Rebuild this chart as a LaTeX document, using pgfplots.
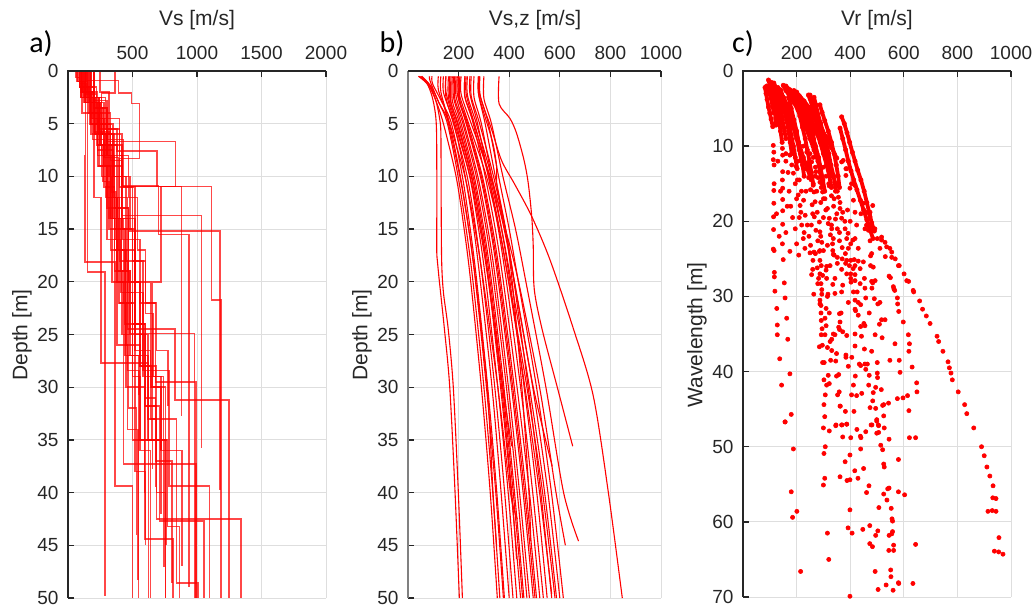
\documentclass[border=0pt]{standalone}
\usepackage{pgfplots}
\pgfplotsset{compat=1.18}
\usepackage{fontspec}
\setmainfont{Liberation Sans}
\newfontfamily\carlito{Carlito}
\begin{document}
\begin{tikzpicture}
\path[use as bounding box] (0pt,0pt) rectangle (1036pt,610pt);
\pgfplotsset{
 base/.style={scale only axis, y dir=reverse, anchor=center,
  axis line style={draw=none},
  xtick pos=right, xticklabel pos=right, ytick pos=left,
  tick align=inside, major tick length=6pt,
  tick style={draw=black!85, line width=1.3pt},
  grid=major, major grid style={draw=black!13, line width=1pt},
  ticklabel style={font=\fontsize{19}{20}\selectfont, text=black!85},
  xticklabel style={yshift=8pt},
  yticklabel style={xshift=-6pt},
  /pgf/number format/assume math mode=true,
  /pgf/number format/1000 sep={},
  clip mode=individual,
 },
 prof/.style={red, draw opacity=0.72, line width=1.6pt, const plot mark right, mark=none},
 vsz/.style={red, line width=1.1pt, smooth, tension=0.5, mark=none},
 strk/.style={red, line width=3.8pt, line cap=round, line join=round, mark=*, mark size=2.2pt, mark options={solid, fill=red, draw=red, line width=0.5pt}},
 dots/.style={red, only marks, mark=*, mark size=2.1pt, mark options={solid, fill=red, draw=red, line width=0.6pt}},
}
% ---------------- panel a
\begin{axis}[base, at={(197pt,275.5pt)}, width=258pt, height=527pt,
  xmin=0, xmax=2000, ymin=0, ymax=50,
  xtick={500,1000,1500,2000}, ytick={0,5,...,50}]
\addplot[prof] coordinates {(90,0)(120,1.5)(135,3)(132,8)(364,18.1)(499,39.4)(499,50)};
\addplot[prof] coordinates {(70,0)(110,1)(150,4)(287,19.05)(287,49.8)};
\addplot[prof] coordinates {(120,0)(200,1.5)(300,3.5)(429,6.5)(1113,10.95)(1188,21.7)(1188,50)};
\addplot[prof] coordinates {(150,0)(230,2)(350,5)(480,10)(1178,15.2)(1178,39.8)};
\addplot[prof] coordinates {(100,0)(200,2.5)(330,5.8)(416,8.5)(1036,13.7)(1036,35.8)};
\addplot[prof] coordinates {(180,0)(260,2.5)(420,6)(700,10.9)(940,15.5)(940,49)};
\addplot[prof] coordinates {(160,0)(240,3)(380,5.5)(692,7.6)(881,10.95)(881,32.7)};
\addplot[prof] coordinates {(200,0)(300,2.8)(834,6.7)(720,10.95)(650,20)(757,30)(757,50)};
\addplot[prof] coordinates {(140,0)(220,2.2)(330,5)(400,12)(462,18)(829,24.5)(1248,31.2)(1248,50)};
\addplot[prof] coordinates {(110,0)(190,2)(280,4.5)(420,9)(560,16)(679,22)(992,29.5)(992,50)};
\addplot[prof] coordinates {(150,0)(250,3)(380,7)(520,14)(620,25)(687,33)(1343,42.5)(1343,50)};
\addplot[prof] coordinates {(90,0)(170,1.5)(260,4)(360,8)(500,15)(600,24)(708,31.8)(1056,42.7)(1056,50)};
\addplot[prof] coordinates {(130,0)(210,2.5)(300,6)(400,13)(500,22)(597,35)(816,44.4)(816,50)};
\addplot[prof] coordinates {(170,0)(280,3)(390,8.2)(520,17)(640,26.5)(842,33)(1010,48.6)(1010,50)};
\addplot[prof] coordinates {(100,0)(180,2)(260,5)(340,10)(429,20)(994,37.3)(994,50)};
\addplot[prof] coordinates {(120,0)(200,2)(320,4.5)(450,10)(580,18)(783,28.4)(1098,39.4)(1098,50)};
\addplot[prof] coordinates {(80,0)(150,1)(200,4)(256,12)(623,27.7)(623,50)};
\addplot[prof] coordinates {(110,0)(180,2)(290,6)(380,12)(462,20)(550,28.4)(550,30.7)};
\addplot[prof] coordinates {(130,0)(220,3)(320,7)(440,15)(592,24)(687,31.8)(757,40)(757,50)};
\addplot[prof] coordinates {(160,0)(240,2.5)(360,6)(470,13)(597,25)(654,35)(654,37.8)};
\addplot[prof] coordinates {(200,0)(290,2.5)(400,5.5)(500,11)(600,18)(687,22)(777,26.5)(777,31.8)};
\addplot[prof] coordinates {(140,0)(230,3)(330,8)(410,14)(480,19)(980,24.9)(980,50)};
\addplot[prof] coordinates {(120,0)(210,2.5)(300,6)(380,12)(480,19)(620,27)(770,35)(863,43.2)(863,50)};
\addplot[prof] coordinates {(90,0)(160,1.5)(240,4)(330,9)(450,17)(560,26)(746,35)(746,47.1)};
\addplot[prof] coordinates {(150,0)(240,2.5)(350,6)(460,12)(580,21)(720,29)(886,36)(886,47)};
\addplot[prof] coordinates {(110,0)(170,2)(230,5)(300,9)(380,16)(460,26)(542,34)(542,48.3)};
\addplot[prof] coordinates {(170,0)(250,3)(340,7)(430,14)(520,22)(594,30)(594,40)};
\addplot[prof] coordinates {(200,0)(300,3.5)(420,8)(520,15)(600,24)(679,31)(679,39.5)};
\addplot[prof] coordinates {(130,0)(230,3)(350,7.5)(470,14)(560,20)(680,28)(806,37)(806,48.6)};
\addplot[prof] coordinates {(100,0)(190,2.5)(280,6.5)(360,11)(440,17)(548,27)(548,50)};
\addplot[prof] coordinates {(364,0)(260,2.1)(330,4)(420,7)(520,11)(640,20)(720,30)(720,36)};
\addplot[prof] coordinates {(60,0)(90,0.6)(140,1.2)(200,2.5)(260,4)(290,6)(330,9)(390,14)(450,22)(520,30)(600,38)(600,45)};
\addplot[prof] coordinates {(140,0)(390,0.9)(493,2.1)(553,3.1)(400,8.3)(470,13)(560,20)(650,28)(720,35)(720,42)};
\addplot[prof] coordinates {(75,0)(130,1)(180,2.5)(230,4.5)(270,7)(320,10.5)(360,14)(420,19)(470,25)(530,32)(530,44)};
\addplot[prof] coordinates {(250,0)(320,2)(400,4.5)(470,8)(540,12)(600,17)(660,23)(740,29)(760,35)(760,45)};
\addplot[prof] coordinates {(180,0)(220,1.5)(270,3.5)(300,6)(340,8)(370,11.5)(410,16)(500,21)(560,29)(640,36)(640,50)};
\draw[black!85, line width=1.6pt, line join=miter] (axis cs:2000,0) -- (axis cs:0,0) -- (axis cs:0,50);
\end{axis}
% ---------------- panel b
\begin{axis}[base, at={(534.5pt,275.5pt)}, width=253pt, height=527pt,
  xmin=0, xmax=1000, ymin=0, ymax=50,
  xtick={200,400,600,800,1000}, ytick={0,5,...,50}]
\addplot[vsz] coordinates {(41,0.5)(75,1.2)(95,2.4)(108,4)(113,6)(114,12)(114,17.5)(122,19.5)(144,24.5)(165,30)(186,40)(203,50)};
\addplot[vsz] coordinates {(50,0.5)(85,1.3)(110,2.8)(125,4.5)(130,6)(131,12)(133,18)(140,21)(159,24.5)(179,30)(199,40)(215,50)};
\addplot[vsz] coordinates {(45,0.5)(80,1.3)(110,2.8)(140,5)(190,10)(222,15)(248,20)(290,30)(325,40)(353,50)};
\addplot[vsz] coordinates {(55,0.5)(92,1.5)(122,3)(156,5)(198,10)(230,15)(257,20)(300,30)(335,40)(363,50)};
\addplot[vsz] coordinates {(85,0.5)(88,1)(122,3)(163,5)(207,10)(240,15)(267,20)(310,30)(347,40)(377,50)};
\addplot[vsz] coordinates {(95,0.5)(97,1.2)(135,3)(172,5)(215,10)(246,15)(272,20)(315,30)(351,40)(381,50)};
\addplot[vsz] coordinates {(140,0.5)(140,2)(168,4)(192,6)(226,10)(260,15)(286,20)(332,30)(368,40)(400,50)};
\addplot[vsz] coordinates {(150,0.5)(150,2.5)(180,5)(234,10)(268,15)(296,20)(343,30)(382,40)(415,50)};
\addplot[vsz] coordinates {(160,0.5)(160,2.5)(190,5)(244,10)(279,15)(308,20)(355,30)(396,40)(430,50)};
\addplot[vsz] coordinates {(170,0.5)(170,3)(198,5)(252,10)(289,15)(319,20)(366,30)(408,40)(445,50)};
\addplot[vsz] coordinates {(175,0.5)(175,2.8)(204,5)(257,10)(295,15)(325,20)(374,30)(416,40)(453,50)};
\addplot[vsz] coordinates {(180,0.5)(180,2.5)(210,5)(262,10)(300,15)(330,20)(379,30)(421,40)(458,50)};
\addplot[vsz] coordinates {(185,0.5)(185,2.6)(217,5)(270,10)(309,15)(339,20)(389,30)(432,40)(470,50)};
\addplot[vsz] coordinates {(190,0.5)(190,2.4)(222,5)(276,10)(316,15)(347,20)(397,30)(441,40)(480,50)};
\addplot[vsz] coordinates {(195,0.5)(195,2.2)(230,5)(286,10)(326,15)(357,20)(409,30)(455,40)(495,50)};
\addplot[vsz] coordinates {(200,0.5)(200,2.6)(232,5)(290,10)(330,15)(362,20)(414,30)(461,40)(502,50)};
\addplot[vsz] coordinates {(205,0.5)(205,2.8)(236,5)(294,10)(335,15)(367,20)(420,30)(467,40)(508,50)};
\addplot[vsz] coordinates {(225,0.5)(225,2.4)(258,5)(305,10)(345,15)(377,20)(431,30)(480,40)(521,50)};
\addplot[vsz] coordinates {(245,0.5)(245,2.2)(275,5)(318,10)(357,15)(389,20)(445,30)(493,40)(535,50)};
\addplot[vsz] coordinates {(261,0.5)(261,2.5)(290,5)(330,10)(370,15)(403,20)(459,30)(509,40)(550,50)};
\addplot[vsz] coordinates {(280,0.5)(280,2.3)(305,5)(345,10)(386,15)(419,20)(475,30)(525,40)(568,50)};
\addplot[vsz] coordinates {(200,0.5)(200,2)(240,5)(310,10)(360,15)(398,20)(470,30)(532,40)(581,50)};
\addplot[vsz] coordinates {(225,0.5)(225,2.5)(262,5)(322,10)(370,15)(408,20)(480,30)(540,40)(587,50)};
\addplot[vsz] coordinates {(250,0.5)(250,2.4)(283,5)(338,10)(384,15)(421,20)(493,30)(553,40)(600,50)};
\addplot[vsz] coordinates {(282,0.5)(282,2.1)(318,5)(358,10)(400,15)(436,20)(508,30)(567,40)(614,50)};
\addplot[vsz] coordinates {(210,0.5)(210,2.2)(250,5)(325,10)(385,15)(437,20)(520,30)(585,40)(622,45)};
\addplot[vsz] coordinates {(300,0.5)(300,2.6)(330,5)(375,10)(425,15)(466,20)(545,30)(615,40)(674,44.6)};
\addplot[vsz] coordinates {(360,0.5)(360,3.1)(403,4.5)(429,5.9)(458,8.4)(475,10.6)(489,13.8)(495,16.6)(499,20.7)(530,24.5)(590,30)(651,35.6)};
\addplot[vsz] coordinates {(284,0.5)(284,2.1)(300,3.5)(330,5.5)(370,8.5)(423,10.8)(489,13.8)(561,17.9)(653,24.4)(732,30.8)(792,40)(847,50)};
\addplot[vsz] coordinates {(150,0.5)(150,2)(185,5)(245,10)(285,15)(318,20)(375,30)(410,35.6)};
\addplot[vsz] coordinates {(235,0.5)(235,2.3)(270,5)(330,10)(380,15)(420,20)(495,30)(570,37.5)};
\addplot[vsz] coordinates {(130,0.5)(130,2)(165,5)(225,10)(265,15)(298,20)(355,30)(405,40)(432,42.5)};
\addplot[vsz] coordinates {(278,0.5)(278,2.1)(300,4)(335,6.8)(350,9)(352,11)(385,15)(412,20)(450,30)(478,40)(485,44.6)};
\addplot[vsz] coordinates {(120,0.5)(120,1.8)(150,4)(205,10)(240,15)(268,20)(313,30)(336,40)(350,45)};
\addplot[vsz] coordinates {(165,0.5)(165,2.5)(195,5)(250,10)(290,15)(320,20)(370,30)(410,40)(429,46.3)};
\addplot[vsz] coordinates {(230,0.5)(230,2.2)(262,5)(318,10)(362,15)(398,20)(462,30)(520,40)(568,49.6)};
\draw[black!50, line width=1.6pt] (axis cs:0,0) -- (axis cs:0,50);
\draw[black!85, line width=1.6pt] (axis cs:1000,0) -- (axis cs:0,0);
\end{axis}
% ---------------- panel c
\begin{axis}[base, at={(877pt,276pt)}, width=268pt, height=526pt,
  xmin=0, xmax=1000, ymin=0, ymax=70,
  xtick={200,400,600,800,1000}, ytick={0,10,...,70}]
\addplot[strk] coordinates {(82,2.2)(86,3)(90,3.8)(95,4.8)(100,5.6)(105,6.4)(111,7.4)};
\addplot[strk] coordinates {(95,1.2)(100,1.9)(106,2.6)(112,3.4)(117,4.3)(120,5.2)(122,6.2)(123,7.2)};
\addplot[strk] coordinates {(88,2)(96,2.7)(104,3.6)(110,4.6)(115,5.6)};
\addplot[strk] coordinates {(150,1.9)(160,2.6)(175,3.4)(190,4.2)(205,5.2)(220,6.3)(235,7.6)(250,9)(265,10.5)(280,12)};
\addplot[strk] coordinates {(140,2.5)(150,3.5)(160,4.5)(172,5.8)(185,7.2)(198,8.6)(212,10)(225,11.5)(240,13)(255,14.5)};
\addplot[strk] coordinates {(132,3)(138,4.5)(145,6)(152,7.5)(160,9)};
\addplot[strk] coordinates {(122,3.5)(127,5)(134,6.5)(140,8)(146,9.5)};
\addplot[strk] coordinates {(160,2)(175,2.5)(195,3.3)(215,4.2)(235,5.2)(255,6.5)(272,8)(288,9.5)(300,11)(312,12.5)(322,14)(330,15.5)};
\addplot[strk] coordinates {(180,3)(200,4)(220,5.5)(240,7)(258,8.5)(270,10)(282,11.5)(290,13)(298,14.5)(305,16)};
\addplot[strk] coordinates {(250,3.2)(258,4.2)(265,5.5)(275,7)(285,8.3)(300,9.5)(310,11)(322,12.5)(332,14)};
\addplot[strk] coordinates {(287,4.5)(295,5.5)(305,6.6)(318,8)(330,9.5)(340,11)(348,12.5)(355,14)(360,15.5)};
\addplot[strk] coordinates {(368,6.1)(378,7)(388,8.2)(398,9.5)(408,10.8)(418,12)(428,13.2)(440,14.5)(452,16)(462,17.5)(472,19)(480,20.2)(490,21.3)};
\addplot[strk] coordinates {(362,7.6)(372,9)(383,10.5)(393,12)(403,13.3)(413,14.5)(425,15.8)(438,17.2)(450,18.5)(462,19.8)(473,21)(485,22.3)};
\addplot[strk] coordinates {(200,2.8)(215,3.6)(230,4.6)(245,5.8)(255,7)(262,8.5)(268,10)};
\addplot[strk] coordinates {(130,2.2)(140,2.8)(152,3.6)(165,4.6)(178,6)(190,7.5)(200,9)(210,10.5)(218,12)};
\addplot[strk] coordinates {(170,3.5)(180,5)(190,6.5)(200,8)(208,9.5)(215,11)(222,12.5)(228,14)};
\addplot[strk] coordinates {(225,4)(238,5.5)(248,7)(258,8.5)(268,9.8)(276,11)(285,12.5)(292,14)};
\addplot[strk] coordinates {(244,3.2)(262,5)(283,7)(297,8)(311,8.8)(330,10.2)(350,11.6)};
\addplot[strk] coordinates {(105,1.5)(112,2.2)(120,3)(128,4)(135,5)(140,6)(145,7)};
\addplot[strk] coordinates {(115,1.6)(125,2.3)(135,3.2)(145,4.2)(155,5.3)(162,6.5)(170,8)(176,9.5)(182,11)};
\addplot[strk] coordinates {(165,2.3)(185,3.2)(200,4.6)(212,6)(222,7.5)(232,9)(240,10.5)(248,12)(255,13.5)(262,15)};
\addplot[strk] coordinates {(190,2.6)(210,3.3)(228,4)(245,4.8)(262,6)(278,7.2)(292,8.5)(305,10)(316,11.5)(326,13)};
\addplot[strk] coordinates {(205,3.5)(225,5)(240,6.2)(252,7.5)(262,9)(272,10.5)(280,12)(288,13.5)(295,15)};
\addplot[strk] coordinates {(265,3.5)(272,4.5)(280,5.8)(290,7)(300,8.3)(310,9.5)(320,11)(328,12.5)(338,14)(345,15.5)};
\addplot[strk] coordinates {(155,4)(165,5.5)(172,7)(180,8.5)(188,10)(195,11.5)(202,13)};
\addplot[dots] coordinates {
(113,9.9)(115,10.8)(113,11.8)(116,12.5)(116,15)(115,15.9)(115,17.6)(114,19.4)(114,21.1)(113,23.7)
(147,10.3)(148,11.2)(148,13.4)(147,14.5)(148,15.6)(148,17.1)(148,18.6)(148,20.4)(147,23.0)
(175,11.2)(182,12.5)(188,13.6)(203,14.5)(206,16.5)(213,17.9)(216,18.8)(219,20.5)(225,22.3)(231,23.6)
(244,12.5)(250,13.9)(262,15.2)(265,16.1)(269,17.4)(277,18.8)(285,20.1)(287,21.4)(294,22.8)(300,23.9)
(238,10.8)(256,12.1)(272,13.4)(287,14.8)(297,16.1)(306,17)(315,18.3)(322,19.6)(331,21)(337,22.3)
(310,10.1)(315,11.2)(325,12.5)(337,13.9)(347,15.2)(356,16.8)(362,18.3)(368,19.6)(381,21)(387,22.3)(393,23.6)
(368,12.1)(384,13.9)(399,15.6)(412,17.2)(418,18.8)(424,20.5)(418,22.3)(430,23.6)
(461,20.5)(474,18.8)(484,17.9)(492,21)(501,22.3)(511,23.6)
(384,13)(405,15)(417,15.2)(459,18.8)(468,20.6)(517,22.1)(530,22.8)(548,23.6)
(374,11.9)(387,13.0)(418,15.2)(449,17.6)(474,19.4)(486,21.2)(517,22.5)(536,23.4)(555,24.8)(580,25.9)(611,27.9)(635,29.2)
(468,21.2)(474,22.6)(480,24.3)(486,26.1)(493,27.9)
(205,12)(230,13)(195,15)(235,16)(260,19)(275,16)(290,17.5)(300,19.5)(340,17)(350,19)(330,20.5)(360,21.5)(400,20)(410,22.5)
(128,6)(160,11)(185,10)(270,14)(250,11)(320,15)(345,16)(390,18.5)(440,19)(455,21)
(160,12)(168,13.5)(172,16)(178,18)(185,19.5)(195,21)(200,23)(208,24.5)
(190,11)(198,12.7)(210,14.5)(218,16)(226,17.2)(232,19.2)(240,20.5)(246,22)(252,23.2)
(225,10)(236,12.3)(245,14.2)(252,15.8)(258,17.8)(266,19.4)(272,21.2)(279,22.6)(285,24)
(262,11.5)(270,12.8)(280,14.2)(292,15.5)(300,17)(309,18.5)(318,20.3)(326,21.8)(334,23)
(300,12.8)(310,14)(322,15.3)(330,16.6)(338,18)(345,19.7)(352,21)(360,22.6)(370,23.5)
(342,14.8)(352,16)(362,17.5)(372,18.8)(380,20)(392,21.6)(402,23)
(200,17)(210,19.5)(228,21.5)(255,20.5)(290,22)(315,23.2)(340,24.5)(370,25)
(130,12)(140,16)(165,18)(160,21.5)(175,24)(125,19)(135,22)};
\addplot[dots] coordinates {
(116,23.9)(150,25.1)(117,26.8)(117,27.4)(154,28.2)(119,29.3)(157,30.2)(126,31.6)(163,32.9)(128,33.8)
(128,35.1)(167,35.7)(137,38.3)(175,40.3)(144,41.8)(180,45.7)(157,46.7)
(250,24.2)(265,24.1)(270,24.3)(287,23.9)(261,25.2)(287,25.2)(292,25.9)(277,26.2)(260,26.4)(256,27.1)
(287,27.0)(297,27.2)(282,27.6)(312,26.0)(310,26.5)(325,25.9)(279,28.3)(291,28.3)(312,27.6)(335,28.4)
(294,29.1)(294,29.7)(264,29.7)(317,29.7)(315,30.0)(343,29.6)(287,30.5)(287,31.0)(291,31.2)(310,31.6)
(322,32.2)(291,32.2)(292,33.2)(306,32.9)(310,33.9)(295,34.3)(292,35.1)(306,35.1)(325,36.0)(331,35.7)
(337,35.0)(343,35.1)(285,36.7)(296,36.5)(315,36.8)(331,37.2)(349,37.6)(297,38.8)(303,38.8)(327,38.5)
(346,38.6)(302,41.1)(318,40.5)(349,40.6)(357,40.4)(312,41.8)(322,41.6)(307,43.1)(353,43.1)(359,42.7)
(302,44.4)(363,44.6)(305,46.0)(347,47.1)(369,47.1)(387,47.0)
(335,23.9)(337,24.4)(352,24.8)(352,25.6)(343,27.6)(368,26.4)(372,28.5)(368,29.4)(382,24.3)(387,25.2)
(383,25.6)(402,25.2)(415,25.1)(397,25.9)(418,25.9)(411,26.3)(430,25.3)(449,25.4)(437,26.3)(387,27.0)
(402,27.0)(418,27.1)(402,27.6)(403,28.1)(418,27.9)(437,28.3)(453,27.6)(476,24.6)(476,25.9)(480,28.0)
(484,28.2)(481,28.9)(455,28.9)(412,29.4)(426,29.4)(393,30.8)(418,30.5)(430,30.8)(458,30.2)(439,31.1)
(420,31.9)(418,31.7)(430,32.5)(366,32.2)(360,32.3)(362,33.4)(357,34.1)(360,34.4)(372,34.7)(387,35.2)
(418,35.0)(442,35.3)(439,34.0)(451,33.6)(455,33.9)(471,32.2)(490,30.3)(503,31.0)(511,30.8)(530,33.1)
(517,33.1)(509,33.7)(493,35.1)(519,35.5)(480,37.3)(453,37.0)(418,36.6)(384,37.8)(384,38.1)(406,38.1)
(393,39.3)(434,39.0)(439,39.2)(455,39.0)(464,39.0)(458,39.7)(501,38.8)(501,40.2)(502,40.8)(471,40.5)
(419,40.6)(412,41.8)(469,41.8)(495,42.1)(516,42.4)(486,42.8)(484,43.9)(405,43.1)(424,43.2)(443,42.9)
(474,44.8)(495,44.9)(521,44.5)(525,44.4)(543,44.2)(382,45.3)(414,45.3)(362,44.6)(525,45.9)(478,47.1)
(499,46.4)(505,47.1)
(531,24.7)(555,24.1)(568,25.0)(583,25.9)(545,27.3)(550,27.5)(561,28.7)(563,29.0)(566,29.2)(576,30.2)
(577,31.0)(581,32.0)(598,33.4)(617,35.1)(621,36.3)(619,37.3)(567,36.3)(548,38.5)(583,38.5)(586,40.1)
(631,39.4)(648,41.5)(649,42.7)(597,43.5)(576,43.6)(614,43.2)(619,45.2)
(601,27.0)(618,28.0)(637,29.4)(659,30.6)(670,31.7)(684,32.6)(698,33.6)(724,35.3)(730,36.0)(746,37.3)
(765,38.7)(770,39.5)(776,40.2)(781,41.1)(803,42.7)(827,44.4)(835,45.6)
(157,46.7)(300,47.5)(322,47.9)(346,47.2)(368,47.1)(387,47.0)(425,47.7)(458,48.0)(481,47.1)(499,46.6)
(506,47.2)(527,47.5)(499,48.2)(506,48.1)(372,48.7)(402,48.8)(438,48.6)(440,48.8)(545,49.0)(621,48.8)
(644,48.8)(861,47.5)(188,50.3)(307,50.0)(302,50.9)(399,51.1)(439,50.3)(514,49.8)(521,50.4)(381,52.0)
(525,52.3)(527,52.7)(580,51.7)(417,53.2)(450,52.9)(362,54.0)(305,54.2)(388,54.5)(399,54.4)(429,54.2)
(300,55.1)(470,55.2)(461,56.1)(180,56.0)(540,55.6)(545,55.5)(525,56.3)(580,56.0)(603,56.4)(537,57.1)
(201,58.6)(185,59.4)(399,58.4)(507,58.1)(553,58.2)(556,59.6)(558,59.9)
(890,50.0)(900,51.2)(910,52.7)(921,53.9)(933,55.2)(932,56.8)(944,56.9)(914,58.6)(930,58.5)(944,58.6)
(955,62.1)(938,63.9)(954,64.0)(970,64.3)
(315,61.5)(392,60.8)(407,61.5)(447,61.0)(473,60.5)(503,61.2)(495,61.8)(545,61.8)(555,61.6)(558,61.3)
(473,62.9)(483,63.3)(562,63.1)(644,63.0)(544,63.8)(562,63.8)(320,65.0)(215,66.6)(493,66.6)(551,66.4)
(552,67.3)(534,68.4)(580,68.1)(581,68.2)(634,68.2)(504,69.0)(560,69.1)(399,69.9)};
\draw[black!85, line width=1.6pt, line join=miter] (axis cs:1000,0) -- (axis cs:0,0) -- (axis cs:0,70);
\end{axis}
% ---------------- labels
\node[font=\carlito\fontsize{30}{30}\selectfont] at (41pt,566pt) {a)};
\node[font=\carlito\fontsize{30}{30}\selectfont] at (392pt,566pt) {b)};
\node[font=\carlito\fontsize{30}{30}\selectfont] at (743pt,566pt) {c)};
\node[font=\fontsize{21}{21}\selectfont, text=black!85] at (197pt,590pt) {Vs [m/s]};
\node[font=\fontsize{21}{21}\selectfont, text=black!85] at (535pt,590pt) {Vs,z [m/s]};
\node[font=\fontsize{21}{21}\selectfont, text=black!85] at (877pt,590pt) {Vr [m/s]};
\node[font=\fontsize{21}{21}\selectfont, text=black!85, rotate=90] at (22pt,275pt) {Depth [m]};
\node[font=\fontsize{21}{21}\selectfont, text=black!85, rotate=90] at (362pt,275pt) {Depth [m]};
\node[font=\fontsize{21}{21}\selectfont, text=black!85, rotate=90] at (697pt,275pt) {Wavelength [m]};
\end{tikzpicture}
\end{document}
